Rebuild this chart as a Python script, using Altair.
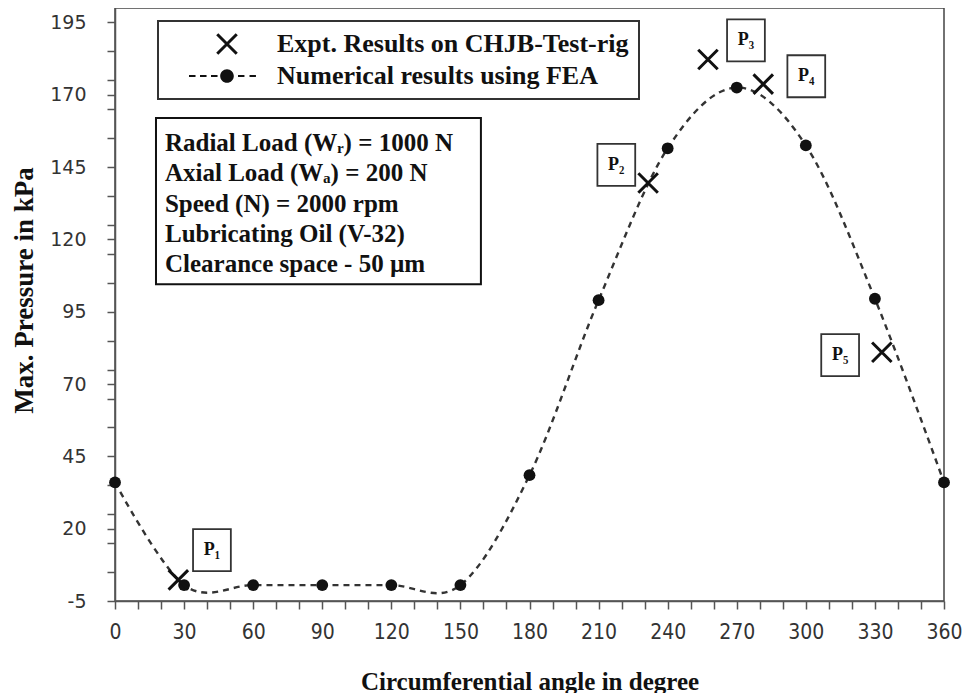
import altair as alt
import pandas as pd

# ---------------- data ----------------
fea_angle = [0, 30, 60, 90, 120, 150, 180, 210, 240, 270, 300, 330, 360]
fea_pressure = [36.0, 0.5, 0.5, 0.5, 0.5, 0.5, 38.5, 99.0, 151.5, 172.5, 152.5, 99.5, 36.0]

expt_angle = [27.5, 231.5, 257.5, 281.5, 333.0]
expt_pressure = [2.3, 139.5, 182.2, 173.7, 81.0]

series_names = ["Expt. Results on CHJB-Test-rig", "Numerical results using FEA"]

p_labels = ["P\u2081", "P\u2082", "P\u2083", "P\u2084", "P\u2085"]
p_label_angle = [42.1, 217.7, 274.0, 300.2, 314.9]
p_label_pressure = [12.6, 145.8, 188.8, 176.4, 80.0]

info_lines = [
    "Radial Load  (W\u1d63) = 1000 N",
    "Axial Load  (W\u2090) = 200 N",
    "Speed (N) = 2000 rpm",
    "Lubricating  Oil (V-32)",
    "Clearance space - 50 \u00b5m",
]
info_line_angle = [21.7, 21.7, 21.7, 21.7, 21.7]
info_line_pressure = [153.3, 142.85, 132.35, 121.85, 111.35]
info_box_angle = [17.8]
info_box_angle2 = [158.9]
info_box_pressure = [104.5]
info_box_pressure2 = [162.0]

x_tick_values = list(range(0, 361, 10))
y_tick_values = sorted(set(range(-5, 196, 10)) | set(range(-5, 196, 25)))

# ---------------- frames ----------------
fea = pd.DataFrame({"angle": fea_angle, "pressure": fea_pressure})
expt = pd.DataFrame({"angle": expt_angle, "pressure": expt_pressure,
                     "series": [series_names[0]] * len(expt_angle)})
plabels = pd.DataFrame({"angle": p_label_angle, "pressure": p_label_pressure, "label": p_labels})
info = pd.DataFrame({"angle": info_line_angle, "pressure": info_line_pressure, "line": info_lines})
infobox = pd.DataFrame({"angle": info_box_angle, "angle2": info_box_angle2,
                        "pressure": info_box_pressure, "pressure2": info_box_pressure2})

SERIF = "Liberation Serif, DejaVu Serif, serif"

x_scale = alt.Scale(domain=[0, 360], nice=False, zero=False)
y_scale = alt.Scale(domain=[-5, 200], nice=False, zero=False)

x_axis = alt.Axis(
    values=x_tick_values,
    labelExpr="datum.value % 30 == 0 ? '' + datum.value : ''",
    title="Circumferential  angle in degree",
    titleFont=SERIF, titleFontSize=25, titleFontWeight="bold", titleColor="#111",
    titleX=414.5, titleY=88, titleBaseline="alphabetic", titleAlign="center",
    labelFont="Liberation Sans Narrow, DejaVu Sans Condensed, sans-serif",
    labelFontSize=21, labelColor="#333", labelPadding=12,
    tickSize=8, tickColor="#555", tickWidth=1.5,
    domainColor="#555", domainWidth=1.5, grid=False, labelFlush=False,
)
y_axis = alt.Axis(
    values=y_tick_values,
    labelExpr="(datum.value + 5) % 25 == 0 ? '' + datum.value : ''",
    title="Max. Pressure in kPa",
    titleFont=SERIF, titleFontSize=27, titleFontWeight="bold", titleColor="#111",
    titleX=-91, titleY=282, titleBaseline="middle", titleAlign="center", titleAngle=270,
    labelFont="DejaVu Sans, sans-serif", labelFontSize=19, labelColor="#333", labelPadding=21,
    tickSize=8, tickColor="#555", tickWidth=1.5,
    domainColor="#555", domainWidth=1.5, grid=False, labelFlush=False,
)

X = alt.X("angle:Q", scale=x_scale, axis=x_axis)
Y = alt.Y("pressure:Q", scale=y_scale, axis=y_axis)

# filled outlines (no stroke needed): an "x" and a "dashed line with a dot"
x_path = ("M-0.891,-1.109L1.109,0.891L0.891,1.109L-1.109,-0.891Z"
          "M1.109,-0.891L-0.891,1.109L-1.109,0.891L0.891,-1.109Z")
combo_path = ("M-3.9,-0.1H-3.23V0.1H-3.9Z"
              "M-2.77,-0.1H-2.1V0.1H-2.77Z"
              "M-1.64,-0.1H-0.97V0.1H-1.64Z"
              "M1.13,-0.1H1.79V0.1H1.13Z"
              "M2.31,-0.1H2.97V0.1H2.31Z"
              "M0.7,0A0.7,0.7,0,1,1,-0.7,0A0.7,0.7,0,1,1,0.7,0Z")
box_path = "M-0.9,-1H0.9V1H-0.9Z"

info_rect = alt.Chart(infobox).mark_rect(
    fill="white", stroke="#111", strokeWidth=2
).encode(x=X, x2=alt.X2("angle2:Q"), y=Y, y2=alt.Y2("pressure2:Q"))

info_text = alt.Chart(info).mark_text(
    align="left", baseline="middle", font=SERIF, fontSize=25, fontWeight="bold", color="#111"
).encode(x=X, y=Y, text="line:N")

line = alt.Chart(fea).mark_line(
    interpolate="cardinal", strokeDash=[6, 5], color="#333", strokeWidth=2.4
).encode(x=X, y=Y)

dots = alt.Chart(fea).mark_circle(size=140, color="#111", opacity=1).encode(x=X, y=Y)

crosses = alt.Chart(expt).mark_point(
    filled=True, fill="#111", color="#111", strokeWidth=0, size=380, opacity=1
).encode(
    x=X, y=Y,
    shape=alt.Shape(
        "series:N",
        scale=alt.Scale(domain=series_names, range=[x_path, combo_path]),
        legend=alt.Legend(
            title=None, orient="none", legendX=43, legendY=13,
            direction="vertical",
            labelFont=SERIF, labelFontSize=26, labelFontWeight="bold", labelColor="#111",
            labelLimit=600, labelOffset=37, symbolOffset=46,
            symbolSize=380, symbolFillColor="#111", symbolStrokeWidth=0,
            padding=10, rowPadding=6,
            strokeColor="#333", fillColor="white",
        ),
    ),
)

pboxes = alt.Chart(plabels).mark_point(
    shape=box_path, size=1764, filled=True, fill="white", stroke="#333",
    strokeWidth=1.8, opacity=1
).encode(x=X, y=Y)

ptext = alt.Chart(plabels).mark_text(
    align="center", baseline="middle", font=SERIF, fontSize=18, fontWeight="bold", color="#111"
).encode(x=X, y=Y, text="label:N")

chart = alt.layer(
    info_rect, info_text, line, dots, crosses, pboxes, ptext
).properties(
    width=829, height=593,
    autosize=alt.AutoSizeParams(type="none"),
    padding={"left": 107, "top": 0, "right": 19, "bottom": 92},
).configure_view(
    stroke="#444", strokeWidth=1.5
).configure_legend(
    strokeWidth=2
)

chart.save("out.html", embed_options={"renderer": "svg", "actions": False})
